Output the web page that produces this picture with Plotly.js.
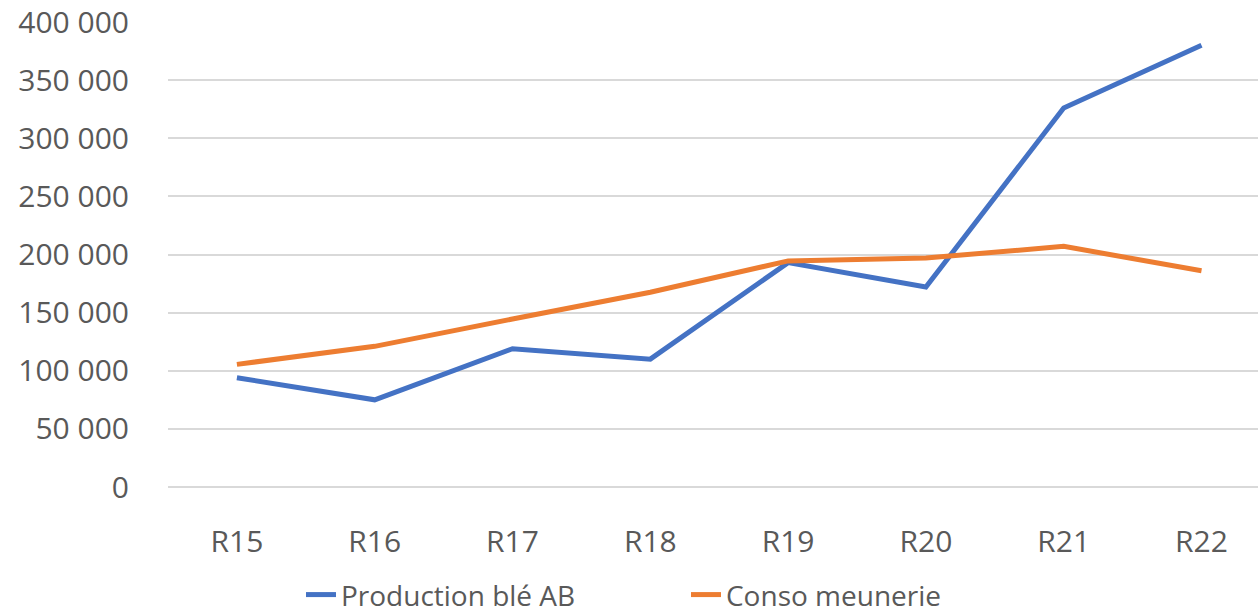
<!DOCTYPE html>
<html>
<head>
<meta charset="utf-8">
<script src="https://cdn.plot.ly/plotly-3.0.1.min.js"></script>
<style>html,body{margin:0;padding:0;background:#fff;}#chart{width:1258px;height:616px;}</style>
</head>
<body>
<div id="chart"></div>
<script>
const categories = ["R15","R16","R17","R18","R19","R20","R21","R22"];
const productionBleAB = [94000, 75000, 119000, 110000, 193000, 172000, 326000, 380000];
const consoMeunerie = [105500, 121000, 144500, 167500, 194500, 197000, 207000, 186000];
const seriesNames = ["Production blé AB", "Conso meunerie"];

const font = {family: "Open Sans, Noto Sans, sans-serif", size: 30, color: "#595959"};

const traces = [
  {x: categories, y: productionBleAB, name: seriesNames[0], type: "scatter", mode: "lines",
   line: {color: "#4472C4", width: 5}},
  {x: categories, y: consoMeunerie, name: seriesNames[1], type: "scatter", mode: "lines",
   line: {color: "#ED7D31", width: 5}}
];

const layout = {
  width: 1258, height: 616,
  margin: {l: 168, r: 0, t: 22, b: 129, autoexpand: false},
  paper_bgcolor: "#fff", plot_bgcolor: "#fff",
  separators: ", ",
  font: font,
  showlegend: true,
  legend: {orientation: "h", x: 0.122, xanchor: "left", y: -0.232, yanchor: "middle",
           font: {family: font.family, size: 28, color: "#595959"},
           entrywidth: 340, entrywidthmode: "pixels", tracegroupgap: 0},
  xaxis: {type: "category", range: [-0.5, 7.41], showgrid: false, zeroline: false, showline: false,
          ticks: "outside", ticklen: 28, tickcolor: "rgba(0,0,0,0)", tickfont: font},
  yaxis: {range: [0, 400000], dtick: 50000, tickformat: ",d", showgrid: true, gridcolor: "#d9d9d9", gridwidth: 2,
          zeroline: true, zerolinecolor: "#d9d9d9", zerolinewidth: 2, showline: false,
          ticks: "outside", ticklen: 32, tickcolor: "rgba(0,0,0,0)", tickfont: font}
};

Plotly.newPlot("chart", traces, layout, {displayModeBar: false, staticPlot: true});
</script>
</body>
</html>
